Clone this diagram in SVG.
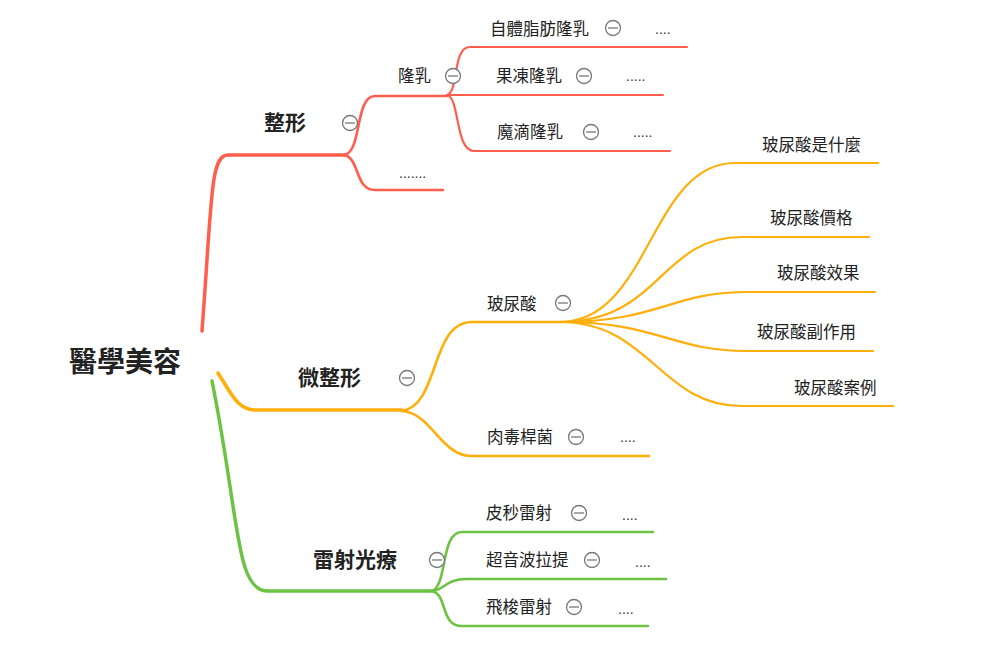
<svg xmlns="http://www.w3.org/2000/svg" width="1000" height="655" viewBox="0 0 1000 655">
<style>
.t{font-family:"Noto Sans CJK TC","Noto Sans CJK SC",sans-serif;fill:#222}
.root{font-size:28px;font-weight:bold}
.main{font-size:21px;font-weight:bold}
.sub{font-size:16.5px}
.dots{font-family:"Liberation Sans",sans-serif;font-size:14px;fill:#333}
.r{stroke:#FF5E4D;fill:none;stroke-linecap:round}
.o{stroke:#FFAE0A;fill:none;stroke-linecap:round}
.g{stroke:#6CC243;fill:none;stroke-linecap:round}
.w1{stroke-width:3.5}
.w2{stroke-width:2.6}
.w3{stroke-width:2.2}
.c circle{fill:#fff;stroke:#777;stroke-width:1.3}
.c line{stroke:#777;stroke-width:1.3}
</style>
<defs>
<g id="col" class="c"><circle cx="0" cy="0" r="7.5"/><line x1="-5" y1="0" x2="5" y2="0"/></g>
</defs>
<rect width="1000" height="655" fill="#fff"/>
<g id="connectors">
<path class="r w1" d="M202,331 C212,200 210,155 228,155 H345"/>
<path class="r w2" d="M345,155 C362,150 355,96 375,96 H447"/>
<path class="r w2" d="M345,155 C360,160 355,190 375,190 H443"/>
<path class="r w3" d="M447,95 C459,92 452,47 470,47 H687"/>
<path class="r w3" d="M447,95 H663"/>
<path class="r w3" d="M447,95 C460,98 455,151 474,151 H670"/>
<path class="o w1" d="M218,373 C232,395 238,410 255,410 H402"/>
<path class="o w2" d="M402,411 C440,405 430,322 472,322 H562"/>
<path class="o w2" d="M402,411 C432,413 440,456 472,456 H649"/>
<path class="o w3" d="M560,322 C650,322 650,163 735,163 H878"/>
<path class="o w3" d="M560,322 C660,322 660,237 742,237 H869"/>
<path class="o w3" d="M560,322 C660,322 670,292 748,292 H875"/>
<path class="o w3" d="M560,322 C660,322 670,351 748,351 H873"/>
<path class="o w3" d="M560,322 C650,322 660,406 742,406 H893"/>
<path class="g w1" d="M212,381 C240,520 235,591 268,591 H432"/>
<path class="g w2" d="M432,591 C448,585 440,532 462,532 H653"/>
<path class="g w2" d="M432,591 C445,590 445,579 467,579 H666"/>
<path class="g w2" d="M432,591 C448,595 440,626 462,626 H648"/>
</g>
<g id="root"><text class="t root" x="69" y="372">醫學美容</text></g>
<g id="n-zhengxing"><text class="t main" x="264" y="130">整形</text><use href="#col" x="350" y="123"/></g>
<g id="n-longru"><text class="t sub" x="398" y="82">隆乳</text><use href="#col" x="453" y="76"/></g>
<g id="n-dots1"><text class="dots" x="399" y="178">.......</text></g>
<g id="n-ziti"><text class="t sub" x="490" y="35">自體脂肪隆乳</text><use href="#col" x="613" y="28"/><text class="dots" x="655" y="34">....</text></g>
<g id="n-guodong"><text class="t sub" x="496" y="82">果凍隆乳</text><use href="#col" x="584" y="76"/><text class="dots" x="626" y="81">.....</text></g>
<g id="n-modi"><text class="t sub" x="497" y="138">魔滴隆乳</text><use href="#col" x="591" y="132"/><text class="dots" x="633" y="137">.....</text></g>
<g id="n-weizhengxing"><text class="t main" x="298" y="385">微整形</text><use href="#col" x="407" y="378"/></g>
<g id="n-boniaosuan"><text class="t sub" x="487" y="310">玻尿酸</text><use href="#col" x="563" y="303"/></g>
<g id="n-roudu"><text class="t sub" x="487" y="443">肉毒桿菌</text><use href="#col" x="576" y="437"/><text class="dots" x="620" y="442">....</text></g>
<g id="n-b1"><text class="t sub" x="762" y="151">玻尿酸是什麼</text></g>
<g id="n-b2"><text class="t sub" x="770" y="224">玻尿酸價格</text></g>
<g id="n-b3"><text class="t sub" x="777" y="279">玻尿酸效果</text></g>
<g id="n-b4"><text class="t sub" x="757" y="338">玻尿酸副作用</text></g>
<g id="n-b5"><text class="t sub" x="794" y="394">玻尿酸案例</text></g>
<g id="n-leishe"><text class="t main" x="313" y="567">雷射光療</text><use href="#col" x="437" y="560"/></g>
<g id="n-pimiao"><text class="t sub" x="486" y="519">皮秒雷射</text><use href="#col" x="579" y="513"/><text class="dots" x="622" y="520">....</text></g>
<g id="n-chaoyin"><text class="t sub" x="486" y="566">超音波拉提</text><use href="#col" x="592" y="560"/><text class="dots" x="635" y="567">....</text></g>
<g id="n-feisuo"><text class="t sub" x="486" y="613">飛梭雷射</text><use href="#col" x="574" y="607"/><text class="dots" x="618" y="614">....</text></g>
</svg>
